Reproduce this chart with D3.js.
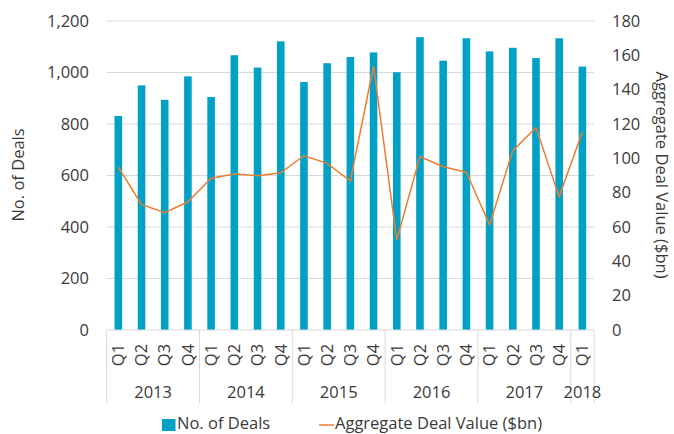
<html>
    <head>
        <style>
            body { margin: 0; background: #fff; }
            text { font-family: "Open Sans", sans-serif; fill: #3a3a3a; }
        </style>
    </head>
    <body>
        <svg></svg>
        <script src="https://d3js.org/d3.v7.min.js"></script>
        <script>
            // chart data
            const years = ["2013", "2014", "2015", "2016", "2017", "2018"];
            const quarters = ["Q1", "Q2", "Q3", "Q4", "Q1", "Q2", "Q3", "Q4", "Q1", "Q2", "Q3", "Q4",
                              "Q1", "Q2", "Q3", "Q4", "Q1", "Q2", "Q3", "Q4", "Q1"];
            const quarterYears = ["2013", "2013", "2013", "2013", "2014", "2014", "2014", "2014",
                                  "2015", "2015", "2015", "2015", "2016", "2016", "2016", "2016",
                                  "2017", "2017", "2017", "2017", "2018"];
            const deals = [831, 950, 894, 985, 905, 1067, 1019, 1121, 963, 1036, 1060, 1078,
                           1001, 1137, 1046, 1133, 1082, 1096, 1056, 1133, 1023];
            const dealValue = [94.8, 73.2, 68.3, 74.7, 88.4, 90.9, 89.9, 91.6, 101.5, 97.1, 86.8, 153.8,
                               52.4, 101, 95.1, 91.9, 61.2, 104.5, 117.9, 77.7, 115.5];
            const leftTicks = [0, 200, 400, 600, 800, 1000, 1200];
            const rightTicks = [0, 20, 40, 60, 80, 100, 120, 140, 160, 180];

            const width = 674, height = 434;
            const plotLeft = 106.7, plotRight = 594, plotTop = 21, plotBottom = 330;

            const svg = d3.select("svg")
                .attr("width", width)
                .attr("height", height);

            const idx = d3.range(quarters.length);
            const x = d3.scaleBand().domain(idx).range([plotLeft, plotRight]);
            const yL = d3.scaleLinear().domain([0, 1200]).range([plotBottom, plotTop]);
            const yR = d3.scaleLinear().domain([0, 180]).range([plotBottom, plotTop]);

            // gridlines
            svg.selectAll(".grid")
                .data(leftTicks.slice(1))
                .join("line")
                .attr("x1", plotLeft).attr("x2", plotRight)
                .attr("y1", d => yL(d)).attr("y2", d => yL(d))
                .attr("stroke", "#d9d9d9")
                .attr("stroke-width", 1);

            // left axis labels
            svg.selectAll(".ltick")
                .data(leftTicks)
                .join("text")
                .attr("x", 89)
                .attr("y", d => yL(d))
                .attr("dy", "0.35em")
                .attr("text-anchor", "end")
                .attr("font-size", 16.5)
                .text(d => d3.format(",")(d));

            // right axis labels
            svg.selectAll(".rtick")
                .data(rightTicks)
                .join("text")
                .attr("x", 612)
                .attr("y", d => yR(d))
                .attr("dy", "0.35em")
                .attr("font-size", 16.5)
                .text(d => d);

            // bars
            svg.selectAll(".bar")
                .data(idx)
                .join("rect")
                .attr("x", i => x(i) + x.bandwidth() / 2 - 3.8)
                .attr("width", 7.6)
                .attr("y", i => yL(deals[i]))
                .attr("height", i => plotBottom - yL(deals[i]))
                .attr("fill", "#00a1c7");

            // line
            const line = d3.line()
                .x(i => x(i) + x.bandwidth() / 2)
                .y(i => yR(dealValue[i]));
            svg.append("path")
                .datum(idx)
                .attr("d", line)
                .attr("fill", "none")
                .attr("stroke", "#ed7d31")
                .attr("stroke-width", 1.5);

            // category axis
            svg.append("line")
                .attr("x1", plotLeft).attr("x2", plotRight)
                .attr("y1", plotBottom).attr("y2", plotBottom)
                .attr("stroke", "#d9d9d9");

            // separators between years
            const bounds = [0];
            years.forEach(yr => bounds.push(quarterYears.lastIndexOf(yr) + 1));
            const bx = b => b < idx.length ? x(b) : plotRight;
            svg.selectAll(".sep")
                .data(bounds)
                .join("line")
                .attr("x1", bx)
                .attr("x2", bx)
                .attr("y1", plotBottom).attr("y2", 403)
                .attr("stroke", "#d9d9d9");

            // quarter labels
            svg.selectAll(".qlab")
                .data(idx)
                .join("text")
                .attr("transform", i => "translate(" + (x(i) + x.bandwidth() / 2) + ",355) rotate(-90)")
                .attr("text-anchor", "middle")
                .attr("dy", "0.35em")
                .attr("font-size", 16.5)
                .text(i => quarters[i]);

            // year labels
            svg.selectAll(".ylab")
                .data(years)
                .join("text")
                .attr("x", (yr, k) => (bx(bounds[k]) + bx(bounds[k + 1])) / 2)
                .attr("y", 392)
                .attr("dy", "0.35em")
                .attr("text-anchor", "middle")
                .attr("font-size", 16.5)
                .text(d => d);

            // axis titles
            svg.append("text")
                .attr("transform", "translate(18,175) rotate(-90)")
                .attr("text-anchor", "middle")
                .attr("dy", "0.35em")
                .attr("font-size", 16.5)
                .text("No. of Deals");
            svg.append("text")
                .attr("transform", "translate(662,175) rotate(90)")
                .attr("text-anchor", "middle")
                .attr("dy", "0.35em")
                .attr("font-size", 16.5)
                .text("Aggregate Deal Value ($bn)");

            // legend
            svg.append("rect")
                .attr("x", 162).attr("y", 419)
                .attr("width", 13.5).attr("height", 12)
                .attr("fill", "#00a1c7");
            svg.append("text")
                .attr("x", 177).attr("y", 423.5)
                .attr("dy", "0.35em")
                .attr("font-size", 16.5)
                .text("No. of Deals");
            svg.append("line")
                .attr("x1", 319).attr("x2", 334)
                .attr("y1", 425).attr("y2", 425)
                .attr("stroke", "#ed7d31")
                .attr("stroke-width", 1.5);
            svg.append("text")
                .attr("x", 335).attr("y", 423.5)
                .attr("dy", "0.35em")
                .attr("font-size", 16.5)
                .text("Aggregate Deal Value ($bn)");
        </script>
    </body>
</html>
